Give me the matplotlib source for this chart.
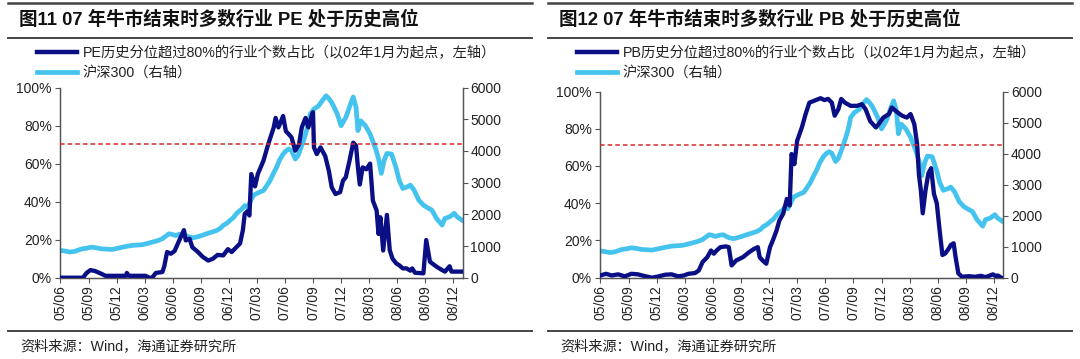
import matplotlib
matplotlib.use("Agg")
import matplotlib.pyplot as plt
from matplotlib.lines import Line2D

plt.rcParams['font.family'] = ['Liberation Sans', 'Noto Sans CJK SC']
plt.rcParams['axes.unicode_minus'] = False

# months since 2005/06
tick_pos = list(range(0, 43, 3))
tick_labels = ['05/06', '05/09', '05/12', '06/03', '06/06', '06/09', '06/12', '07/03',
               '07/06', '07/09', '07/12', '08/03', '08/06', '08/09', '08/12']

# 沪深300 (right axis)
csi_t = [0, 0.5, 1, 1.5, 2.3, 2.8, 3.3, 3.9, 4.4, 5, 5.5, 6, 6.6, 7.1, 7.7, 8.2, 8.7, 9.3, 9.8,
         10.4, 10.9, 11.3, 11.6, 12, 12.3, 12.7, 13.1, 13.5, 13.8, 14.2, 14.5, 15, 15.6, 16.1,
         16.7, 17.1, 17.4, 17.8, 18.1, 18.5, 18.8, 19.1, 19.4, 19.7, 20, 20.3, 20.6, 20.9,
         21.3, 21.7, 22, 22.4, 22.7, 23.1, 23.4, 23.8, 24.1, 24.4, 24.7, 25.1, 25.4, 25.6,
         25.9, 26.2, 26.5, 26.7, 27.1, 27.6, 27.9, 28.1, 28.4, 28.7, 29.0, 29.3, 29.6, 30.0,
         30.3, 30.5, 30.8, 31.0, 31.3, 31.6, 31.8, 32.1, 32.6, 33.1, 33.7, 34.0, 34.3, 34.6,
         34.9, 35.4, 35.9, 36.2, 36.6, 37.1, 37.4, 37.8, 38.3, 38.8, 39.4, 39.7, 40.2, 40.8,
         41.1, 41.6, 42.1, 42.4, 42.9]
csi_v = [860, 840, 810, 830, 910, 930, 965, 940, 910, 900, 890, 920, 960, 990, 1020, 1030, 1040,
         1080, 1120, 1170, 1230, 1320, 1385, 1360, 1330, 1370, 1385, 1320, 1280, 1260, 1280,
         1320, 1385, 1430, 1490, 1560, 1650, 1720, 1800, 1900, 2015, 2100, 2170, 2275, 2220,
         2400, 2590, 2645, 2700, 2750, 2880, 3060, 3250, 3480, 3700, 3900, 4000, 4060, 4010,
         3745, 3850, 4010, 4250, 4530, 4850, 5160, 5320, 5420, 5550, 5630, 5740, 5650, 5525,
         5350, 5160, 4795, 4950, 5055, 5300, 5475, 5700, 5370, 4640, 4950, 4795, 4530, 4060,
         3760, 3290, 3700, 3920, 3900, 3445, 3080, 2815, 2870, 2920, 2765, 2450, 2290, 2180,
         2135, 1870, 1660, 1870, 1920, 2030, 1920, 1820]

# PE历史分位超过80%的行业个数占比 (left axis, %)
pe_t = [0, 2.4, 2.8, 3.2, 3.7, 4.4, 4.8, 7.0, 7.1, 7.3, 9.1, 9.5, 9.8, 10.2, 10.9, 11.1, 11.4,
        11.8, 12.2, 12.7, 13.2, 13.4, 13.8, 14.1, 14.7, 15.2, 15.8, 16.3, 16.8, 17.4, 17.9,
        18.3, 18.8, 19.2, 19.5, 19.7, 20.0, 20.2, 20.4, 20.8, 21.1, 21.7, 22.2, 22.8, 23.0,
        23.3, 23.6, 23.8, 24.1, 24.4, 24.7, 25.1, 25.5, 25.8, 26.2, 26.5, 26.9, 27.0, 27.1,
        27.4, 27.8, 28.3, 28.7, 29.0, 29.4, 29.9, 30.2, 30.5, 30.9, 31.3, 31.6, 31.8, 32.0,
        32.3, 32.7, 33.1, 33.4, 33.8, 34.0, 34.2, 34.5, 34.9, 35.2, 35.5, 35.9, 36.2, 36.6,
        37.0, 37.4, 37.6, 37.9, 38.8, 39.1, 39.5, 40.2, 40.8, 41.1, 41.6, 41.8, 43.0]
pe_v = [0, 0, 2.5, 4, 3.5, 2, 1, 1, 2.5, 1, 1, 0, 0, 2.5, 3, 6, 13.5, 12.6, 14, 19.6, 25, 19.6,
        20.5, 16, 13.5, 11, 9, 10, 12, 11.7, 15, 13.5, 16, 18, 25, 33.5, 35, 32.7, 54.5, 48,
        54.5, 61.5, 70, 79, 84, 79, 82.5, 85, 77, 75.5, 73.8, 66.8, 70, 79, 84, 79, 86, 87,
        68.5, 65, 68.5, 64, 56, 47.5, 44, 45, 51, 52.8, 61.5, 71, 69.4, 58, 49, 58, 57, 60,
        40.5, 35.3, 23, 31.8, 14.3, 33, 14.5, 10, 7.5, 6.6, 4.9, 4.9, 3.7, 4.9, 2.6, 2.3,
        19.8, 8.4, 5.8, 4, 3.2, 6, 3.2, 3.2]

# PB历史分位超过80%的行业个数占比 (left axis, %)
pb_t = [0, 0.6, 1.2, 1.9, 2.6, 3.3, 4.0, 4.7, 5.5, 6.2, 6.9, 7.6, 8.3, 8.9, 9.4, 10.1, 10.5,
        10.9, 11.4, 11.8, 12.1, 12.4, 12.8, 13.4, 13.7, 14.0, 14.5, 15.2, 15.9, 16.4, 16.8,
        17.0, 17.3, 17.7, 18.1, 18.4, 18.8, 19.1, 19.5, 19.9, 20.2, 20.4, 20.7, 21.0, 21.5,
        21.9, 22.3, 22.8, 23.5, 23.9, 24.3, 24.7, 25.0, 25.4, 25.7, 26.1, 26.7, 27.4, 27.9,
        28.3, 28.8, 29.4, 29.7, 30.2, 30.8, 31.1, 31.7, 32.2, 32.7, 33.1, 33.5, 33.8, 34.0,
        34.2, 34.4, 34.7, 35.0, 35.3, 35.6, 35.9, 36.2, 36.5, 36.8, 37.2, 37.4, 37.7, 37.9,
        38.2, 38.6, 39.3, 40.0, 40.6, 41.1, 41.9, 42.2, 42.4, 42.8]
pb_v = [1.2, 2.1, 1.2, 1.8, 0.7, 2.1, 1.8, 0.9, 0, 0.7, 1.6, 1.8, 0.7, 1.2, 2.1, 2.5, 3.9, 8.4,
        11, 14.6, 12.9, 14.6, 16.4, 16.8, 16.4, 6.6, 9.3, 11, 13.8, 15.5, 16.4, 11, 9.3, 7.5,
        16.4, 20, 25.4, 30.7, 34.3, 42.3, 38.8, 66.4, 61, 73.6, 80.7, 87.9, 94, 95, 96.4,
        95.4, 96, 94, 87, 90.5, 96, 94, 92.3, 92.3, 93.2, 90.5, 84, 80.7, 82.5, 86, 87.9,
        91.4, 88.8, 87, 86, 87.9, 82.5, 71.8, 55, 47, 34.6, 47, 56, 58.8, 45, 40, 25.6, 12.2,
        13, 15.8, 17.6, 18.5, 11.3, 2.3, 0.5, 0.8, 0.5, 1, 0.3, 1.8, 0.8, 1.2, 0]

ref_lines = [70.5, 71.5]

titles = ['图11 07 年牛市结束时多数行业 PE 处于历史高位', '图12 07 年牛市结束时多数行业 PB 处于历史高位']
legend_labels = [['PE历史分位超过80%的行业个数占比（以02年1月为起点，左轴）', '沪深300（右轴）'],
                 ['PB历史分位超过80%的行业个数占比（以02年1月为起点，左轴）', '沪深300（右轴）']]
source = '资料来源：Wind，海通证券研究所'

navy = '#0a0f85'
light = '#45c3ef'
grey = '#555555'
txt = '#222222'

W, H = 1080, 359
fig = plt.figure(figsize=(10.8, 3.59), dpi=100)


def fx(px):
    return px / W


def fy(py):
    return 1 - py / H


panels = [(0, 59.5, 462.7, 87.5, pe_t, pe_v), (540, 599.5, 1003.3, 91.5, pb_t, pb_v)]

for i, (off, x0, x1, ytop, t, v) in enumerate(panels):
    ybot = 277.7
    ax = fig.add_axes([fx(x0), fy(ybot), fx(x1 - x0), (ybot - ytop) / H])
    ax2 = ax.twinx()

    ax.plot(t, [p / 100 for p in v], color=navy, lw=3.1, solid_joinstyle='round', zorder=3)
    ax2.plot(csi_t, csi_v, color=light, lw=3.4, solid_joinstyle='round', zorder=2)
    ax.axhline(ref_lines[i] / 100, color='#d42a2a', lw=1.1, ls=(0, (3, 2)), zorder=4)
    ax.set_zorder(ax2.get_zorder() + 1)
    ax.patch.set_visible(False)

    ax.set_xlim(-0.1, 43.0)
    ax.set_ylim(0, 1)
    ax2.set_ylim(0, 6000)
    ax.set_yticks([0, 0.2, 0.4, 0.6, 0.8, 1.0])
    ax.set_yticklabels(['0%', '20%', '40%', '60%', '80%', '100%'])
    ax2.set_yticks(range(0, 6001, 1000))
    ax.set_xticks(tick_pos)
    ax.set_xticklabels(tick_labels, rotation=90)

    for a in (ax, ax2):
        a.spines['top'].set_visible(False)
        for s in ('left', 'right', 'bottom'):
            a.spines[s].set_color(grey)
            a.spines[s].set_linewidth(0.9)
        a.tick_params(direction='out', length=3.5, width=0.8, color=grey,
                      labelsize=10, labelcolor=txt, pad=2)

    # header rules, title, legend, source
    fig.add_artist(Line2D([fx(8 + off), fx(532 + off)], [fy(3), fy(3)], color='#444444', lw=1.8))
    fig.add_artist(Line2D([fx(8 + off), fx(532 + off)], [fy(38), fy(38)], color='#444444', lw=1.4))
    fig.add_artist(Line2D([fx(8 + off), fx(532 + off)], [fy(331), fy(331)], color='#444444', lw=1.4))
    fig.text(fx(19 + off), fy(19), titles[i], fontsize=13.3, fontweight='bold', color='#111111',
             va='center', ha='left')
    fig.text(fx(20 + off), fy(346), source, fontsize=10.2, color=txt, va='center', ha='left')

    handles = [Line2D([], [], color=navy, lw=3.2), Line2D([], [], color=light, lw=3.4)]
    fig.legend(handles, legend_labels[i], loc='upper left',
               bbox_to_anchor=(fx(37 + off), fy(46)), frameon=False, fontsize=10.3,
               handlelength=2.8, handletextpad=0.4, labelspacing=0.38,
               borderpad=0, borderaxespad=0, labelcolor=txt)

fig.savefig('out.png', dpi=100)
